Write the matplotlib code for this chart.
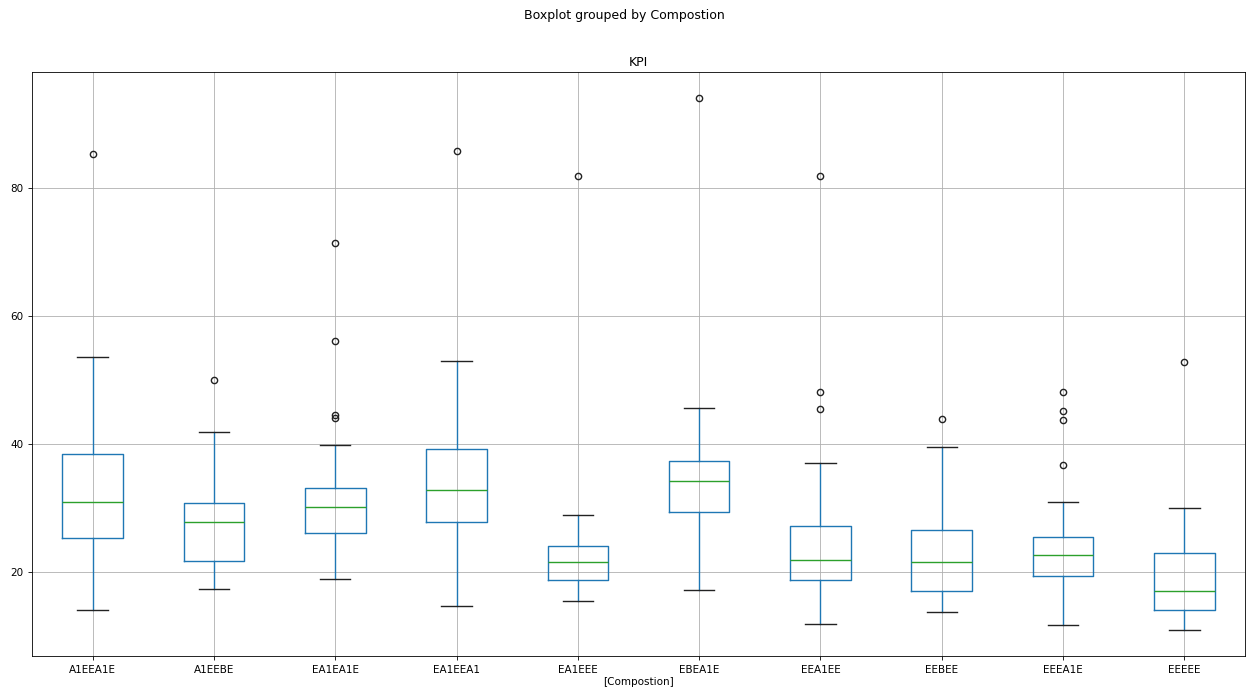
import matplotlib
matplotlib.use("Agg")
import matplotlib.pyplot as plt

groups = ["A1EEA1E", "A1EEBE", "EA1EA1E", "EA1EEA1", "EA1EEE",
          "EBEA1E", "EEA1EE", "EEBEE", "EEEA1E", "EEEEE"]

whislo = [14.06, 17.4, 18.85, 14.7, 15.4, 17.2, 11.8, 13.75, 11.7, 11.0]
q1 = [25.3, 21.7, 26.1, 27.8, 18.75, 29.3, 18.75, 17.1, 19.3, 14.0]
med = [31.0, 27.8, 30.2, 32.8, 21.5, 34.2, 21.9, 21.6, 22.7, 17.1]
q3 = [38.4, 30.8, 33.2, 39.2, 24.0, 37.3, 27.2, 26.5, 25.4, 22.9]
whishi = [53.6, 41.9, 39.8, 52.9, 28.9, 45.7, 37.0, 39.5, 30.9, 29.95]
fliers = [
    [85.3],
    [50.0],
    [71.4, 56.1, 44.5, 44.0],
    [85.8],
    [81.9],
    [94.1],
    [81.9, 48.1, 45.5],
    [43.9],
    [48.2, 45.2, 43.75, 36.7],
    [52.8],
]

stats = []
for i, name in enumerate(groups):
    stats.append({
        "label": name,
        "whislo": whislo[i],
        "q1": q1[i],
        "med": med[i],
        "q3": q3[i],
        "whishi": whishi[i],
        "fliers": fliers[i],
    })

# the reference looks like a scaled-down render, so shrink text and lines
s = 0.75
plt.rcParams["font.size"] = 10 * s
plt.rcParams["axes.linewidth"] = 0.8 * s
plt.rcParams["grid.linewidth"] = 0.8 * s
plt.rcParams["xtick.major.width"] = 0.8 * s
plt.rcParams["ytick.major.width"] = 0.8 * s
plt.rcParams["xtick.major.size"] = 3.5 * s
plt.rcParams["ytick.major.size"] = 3.5 * s

fig = plt.figure(figsize=(12.48, 6.89), dpi=100)
ax = fig.add_axes([32 / 1248, 1 - 656 / 689, (1245 - 32) / 1248, (656 - 72) / 689])

lw = 1.0
ax.bxp(stats, positions=range(1, len(groups) + 1), widths=0.5,
       boxprops=dict(color="#1f77b4", linewidth=lw),
       whiskerprops=dict(color="#1f77b4", linewidth=lw),
       medianprops=dict(color="#2ca02c", linewidth=lw),
       capprops=dict(color="#222222", linewidth=lw),
       flierprops=dict(marker="o", markersize=6 * s, markerfacecolor="none",
                       markeredgecolor="#222222", markeredgewidth=lw))

ax.set_xlim(0.5, len(groups) + 0.5)
ax.set_ylim(6.875, 98.125)
ax.set_yticks([20, 40, 60, 80])
ax.grid(True)
ax.set_axisbelow(True)
ax.set_title("KPI", fontsize=12 * s, pad=4)
ax.set_xlabel("[Compostion]", labelpad=2)
fig.suptitle("Boxplot grouped by Compostion", fontsize=12 * s, y=1 - 15 / 689, va="center")

fig.savefig("out.png", dpi=100)
